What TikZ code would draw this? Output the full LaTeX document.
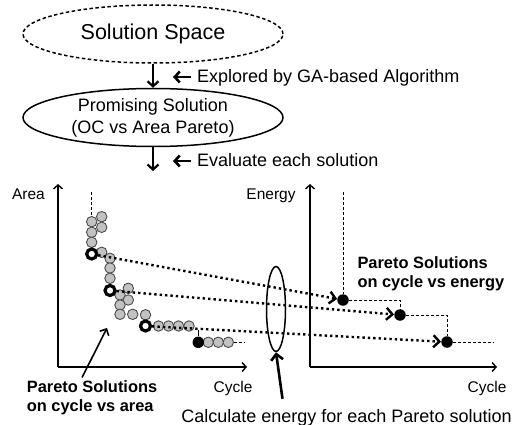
\documentclass[tikz,border=0pt]{standalone}
\usepackage{fontspec}
\setmainfont{Liberation Sans}
\usetikzlibrary{calc}
\usetikzlibrary{arrows.meta}
\usetikzlibrary{shapes.geometric}

\definecolor{solgray}{gray}{0.76}

\begin{document}
\begin{tikzpicture}[x=1pt, y=-1pt, every node/.style={font=\fontsize{18}{22}\selectfont}]

		\useasboundingbox (0,0) rectangle (514,425);
		\tikzset{flow/.style={line width=2.2pt, -{Straight Barb[length=5pt,width=11pt,line width=2.2pt]}},
			note/.style={line width=2.6pt, -{Straight Barb[length=5pt,width=11pt,line width=2.6pt]}},
			axis/.style={line width=1.4pt, -{Straight Barb[length=4pt,width=9pt,line width=1.4pt]}},
			front/.style={line width=1pt, dash pattern=on 3pt off 2pt},
			tosol/.style={line width=2.4pt, dash pattern=on 2.4pt off 3pt, -{Straight Barb[length=6pt,width=12pt,line width=2.4pt]}},
			sol/.style={circle, draw=black!70, fill=solgray, line width=0.9pt, inner sep=0pt, minimum size=10.5pt},
			pick/.style={circle, draw, fill=white, line width=3.2pt, inner sep=0pt, minimum size=10pt},
			best/.style={circle, fill=black, inner sep=0pt, minimum size=11.5pt},
			axlabel/.style={font=\fontsize{15.5}{18}\selectfont},
			paretolabel/.style={anchor=north west, align=left, inner sep=0pt, font=\bfseries\fontsize{16.4}{18.5}\selectfont}}

		% design flow
		\node[ellipse, draw, line width=1.5pt, dash pattern=on 3.5pt off 2.5pt, minimum width=260pt, minimum height=58pt, font=\fontsize{21.5}{26}\selectfont] (space) at (153,34) {Solution Space};
		\node[ellipse, draw, line width=1.5pt, minimum width=260pt, minimum height=58pt, inner sep=0pt, align=center] (promising) at (153,117.5) {Promising Solution\\(OC vs Area Pareto)};
		\coordinate (evalend) at (153,171);
		\draw[flow] (space) -- (promising);
		\draw[flow] (promising) -- (evalend);

		\node[anchor=base west, inner sep=0pt] (explore) at (197,83) {Explored by GA-based Algorithm};
		\node[anchor=base west, inner sep=0pt] (evaluate) at (197,167) {Evaluate each solution};
		\foreach \n in {explore, evaluate}{\draw[note] ($(\n.base west)+(-6,-6)$) -- ++(-18,0);}

		% cycle vs area
		\coordinate (oa) at (58,367);
		\draw[axis] (oa) -- (58,184);
		\draw[axis] (oa) -- (247,367);
		\node[axlabel, anchor=base] (area) at (28.5,199) {Area};
		\node[axlabel, anchor=base] (cyclea) at (233,392) {Cycle};

		\foreach \x/\y [count=\i] in {91.7/221.7, 101.7/216.7, 101.7/227.3, 91.7/232.3, 91.7/242.3, 101.7/252.3, 110/258.3, 110/268, 110/278.3,
				128.3/288.3, 120/295, 128.3/300, 120/305, 120/314.3, 132.7/314.3, 145.5/314.8,
				158.5/326, 168.5/326, 178.5/326, 189/326, 208.3/342.3, 218.3/342.3, 228.3/342.3}
			{\node[sol] (s\i) at (\x,\y) {};}
		\node[best] (b) at (198.3,342.3) {};
		\coordinate (atop) at (91.7,192);
		\draw[front] (atop) -- (s1);
		\draw[line width=1pt] (b.north) -- ++(0,-6);
		\draw[front] (s23.east) -- ++(11,0);

		% cycle vs energy
		\coordinate (oe) at (310,367);
		\draw[axis] (oe) -- (310,184);
		\draw[axis] (oe) -- (497,367);
		\node[axlabel, anchor=base] (energy) at (271,199) {Energy};
		\node[axlabel, anchor=base] (cyclee) at (487,392) {Cycle};

		\node[best] (e1) at (343,300) {};
		\node[best] (e2) at (400,315) {};
		\node[best] (e3) at (447,342) {};
		\coordinate (etop) at (343,192);
		\coordinate (eend) at (494,342);
		\draw[front] (etop) -- (e1) -- (e1 -| e2) -- (e2) -- (e2 -| e3) -- (e3) -- (eend);

		% chosen points and where they land
		\node[pick] (r1) at (91.7,254) {};
		\node[pick] (r2) at (110,290.5) {};
		\node[pick] (r3) at (145.5,326) {};
		\foreach \i in {1,2,3}{\draw[tosol] (r\i) -- (e\i);}

		\node[ellipse, draw, line width=1.5pt, minimum width=19pt, minimum height=85pt, inner sep=0pt] (group) at (276,309) {};

		% labels
		\node[paretolabel] (areapareto) at (26.7,380.5) {Pareto Solutions\\on cycle vs area};
		\node[paretolabel] (energypareto) at (357.3,256.5) {Pareto Solutions\\on cycle vs energy};
		\node[anchor=base, inner sep=0pt] (calcnote) at (346.5,422) {Calculate energy for each Pareto solution};
		\coordinate (areafront) at (107,328);
		\draw[line width=1.6pt, -{Straight Barb[length=5pt,width=10pt,line width=1.6pt]}] ([xshift=-10pt,yshift=3pt]areapareto.north) -- (areafront);
		\draw[line width=2.6pt, -{Straight Barb[length=6pt,width=12pt,line width=2.6pt]}] ([xshift=-64pt,yshift=10pt]calcnote.north) -- (group.south);
	\end{tikzpicture}
\end{document}
